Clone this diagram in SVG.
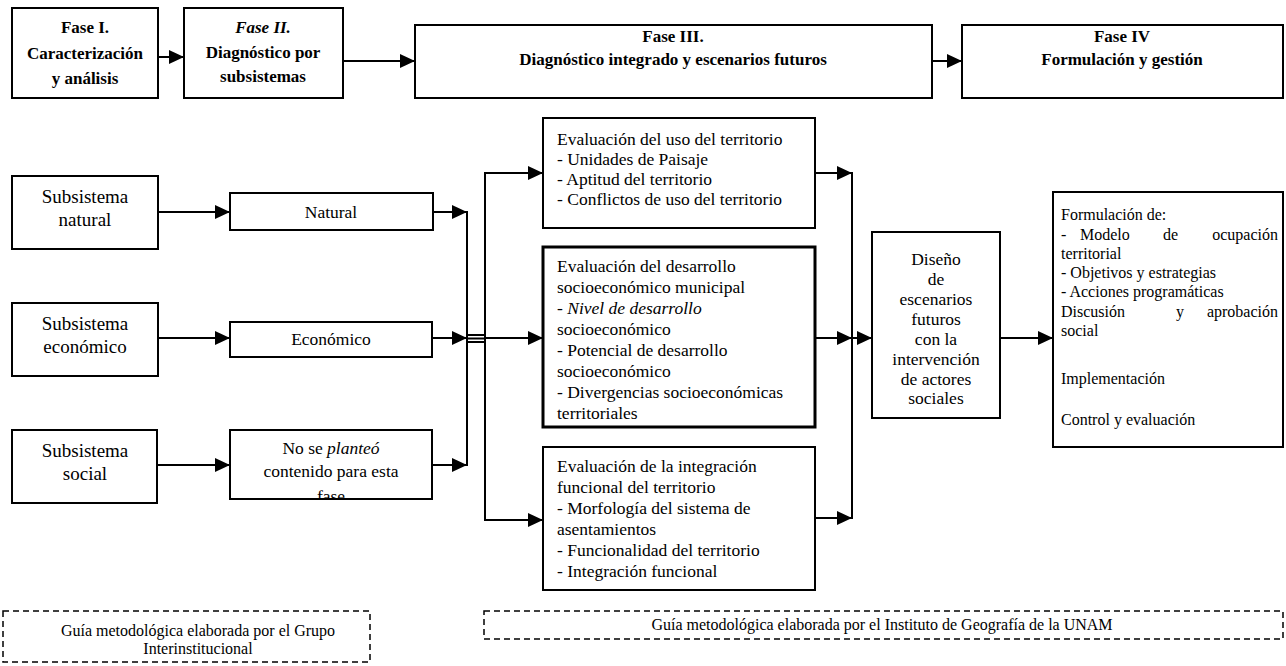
<svg xmlns="http://www.w3.org/2000/svg" width="1286" height="666" viewBox="0 0 1286 666">
<defs>
<marker id="ah" markerUnits="userSpaceOnUse" markerWidth="16" markerHeight="14" refX="15" refY="7" orient="auto">
<path d="M0,0 L15,7 L0,14 Z" fill="#000"/>
</marker>
<clipPath id="clipNo"><rect x="230" y="430" width="202" height="69"/></clipPath>
</defs>
<style>
.box{fill:#fff;stroke:#000;stroke-width:2}
.thick{fill:#fff;stroke:#000;stroke-width:3}
.dash{fill:none;stroke:#000;stroke-width:1.5;stroke-dasharray:6,4}
.t{font-family:"Liberation Serif","Times New Roman",serif;font-size:17.5px;fill:#000}
.l{font-family:"Liberation Serif","Times New Roman",serif;font-size:19px;fill:#000}
.s{font-family:"Liberation Serif","Times New Roman",serif;font-size:16px;fill:#000}
.b{font-family:"Liberation Serif","Times New Roman",serif;font-size:17px;font-weight:bold;fill:#000}
.m{text-anchor:middle}
.e{text-anchor:end}
.c{fill:none;stroke:#000;stroke-width:2}
.ca{fill:none;stroke:#000;stroke-width:2;marker-end:url(#ah)}
</style>
<rect width="1286" height="666" fill="#fff"/>

<g id="fase1">
<rect class="box" x="12" y="8" width="146" height="90"/>
<text class="b m" x="85" y="33">Fase I.</text>
<text class="b m" x="85" y="59">Caracterización</text>
<text class="b m" x="85" y="84">y análisis</text>
</g>
<g id="fase2">
<rect class="box" x="184" y="8" width="159" height="90"/>
<text class="b m" x="263" y="33" font-style="italic">Fase II.</text>
<text class="b m" x="263" y="58">Diagnóstico por</text>
<text class="b m" x="263" y="82">subsistemas</text>
</g>
<g id="fase3">
<rect class="box" x="415" y="25" width="517" height="73"/>
<text class="b m" x="673" y="42">Fase III.</text>
<text class="b m" x="673" y="65">Diagnóstico integrado y escenarios futuros</text>
</g>
<g id="fase4">
<rect class="box" x="962" y="25" width="321" height="73"/>
<text class="b m" x="1122" y="42">Fase IV</text>
<text class="b m" x="1122" y="65">Formulación y gestión</text>
</g>

<g id="sub-natural">
<rect class="box" x="12" y="176" width="146" height="73"/>
<text class="l m" x="85" y="203">Subsistema</text>
<text class="l m" x="85" y="226">natural</text>
</g>
<g id="natural">
<rect class="box" x="230" y="193" width="203" height="37"/>
<text class="t m" x="331" y="218">Natural</text>
</g>
<g id="sub-economico">
<rect class="box" x="12" y="303" width="146" height="73"/>
<text class="l m" x="85" y="330">Subsistema</text>
<text class="l m" x="85" y="353">económico</text>
</g>
<g id="economico">
<rect class="box" x="230" y="322" width="202" height="35"/>
<text class="t m" x="331" y="345">Económico</text>
</g>
<g id="sub-social">
<rect class="box" x="12" y="430" width="145" height="73"/>
<text class="l m" x="85" y="457">Subsistema</text>
<text class="l m" x="85" y="480">social</text>
</g>
<g id="no-planteo">
<rect class="box" x="230" y="430" width="202" height="69"/>
<g clip-path="url(#clipNo)">
<text class="t m" x="331" y="454">No se <tspan font-style="italic">planteó</tspan></text>
<text class="t m" x="331" y="477">contenido para esta</text>
<text class="t m" x="331" y="502">fase</text>
</g>
</g>

<g id="eval-uso">
<rect class="box" x="543" y="118" width="272" height="110"/>
<text class="t" x="557" y="145">Evaluación del uso del territorio</text>
<text class="t" x="557" y="165">- Unidades de Paisaje</text>
<text class="t" x="557" y="185">- Aptitud del territorio</text>
<text class="t" x="557" y="205">- Conflictos de uso del territorio</text>
</g>
<g id="eval-desarrollo">
<rect class="thick" x="543" y="247" width="272" height="180"/>
<text class="t" x="557" y="272">Evaluación del desarrollo</text>
<text class="t" x="557" y="293">socioeconómico municipal</text>
<text class="t" x="557" y="314">- <tspan font-style="italic">Nivel de desarrollo</tspan></text>
<text class="t" x="557" y="335">socioeconómico</text>
<text class="t" x="557" y="356">- Potencial de desarrollo</text>
<text class="t" x="557" y="377">socioeconómico</text>
<text class="t" x="557" y="398">- Divergencias socioeconómicas</text>
<text class="t" x="557" y="419">territoriales</text>
</g>
<g id="eval-integracion">
<rect class="box" x="543" y="447" width="272" height="143"/>
<text class="t" x="557" y="472">Evaluación de la integración</text>
<text class="t" x="557" y="493">funcional del territorio</text>
<text class="t" x="557" y="514">- Morfología del sistema de</text>
<text class="t" x="557" y="535">asentamientos</text>
<text class="t" x="557" y="556">- Funcionalidad del territorio</text>
<text class="t" x="557" y="577">- Integración funcional</text>
</g>

<g id="disenio">
<rect class="box" x="872" y="232" width="128" height="186"/>
<text class="t m" x="936" y="265">Diseño</text>
<text class="t m" x="936" y="285">de</text>
<text class="t m" x="936" y="305">escenarios</text>
<text class="t m" x="936" y="325">futuros</text>
<text class="t m" x="936" y="345">con la</text>
<text class="t m" x="936" y="365">intervención</text>
<text class="t m" x="936" y="385">de actores</text>
<text class="t m" x="936" y="404">sociales</text>
</g>

<g id="formulacion">
<rect class="box" x="1053" y="192" width="230" height="255"/>
<text class="s" x="1061" y="220">Formulación de:</text>
<text class="s" x="1061" y="240">-</text>
<text class="s" x="1080" y="240">Modelo</text>
<text class="s" x="1163" y="240">de</text>
<text class="s e" x="1278" y="240">ocupación</text>
<text class="s" x="1061" y="259">territorial</text>
<text class="s" x="1061" y="278">- Objetivos y estrategias</text>
<text class="s" x="1061" y="297">- Acciones programáticas</text>
<text class="s" x="1061" y="317">Discusión</text>
<text class="s" x="1176" y="317">y</text>
<text class="s e" x="1278" y="317">aprobación</text>
<text class="s" x="1061" y="336">social</text>
<text class="s" x="1061" y="384">Implementación</text>
<text class="s" x="1061" y="425">Control y evaluación</text>
</g>

<g id="guia-grupo">
<rect class="dash" x="3" y="611" width="367" height="51"/>
<text class="s m" x="198" y="636">Guía metodológica elaborada por el Grupo</text>
<text class="s m" x="198" y="654">Interinstitucional</text>
</g>
<g id="guia-unam">
<rect class="dash" x="484" y="611" width="799" height="28"/>
<text class="s m" x="882" y="630">Guía metodológica elaborada por el Instituto de Geografía de la UNAM</text>
</g>

<g id="connectors">
<line class="ca" x1="158" y1="57" x2="184" y2="57"/>
<line class="ca" x1="343" y1="61" x2="415" y2="61"/>
<line class="ca" x1="932" y1="61" x2="962" y2="61"/>

<line class="ca" x1="158" y1="212" x2="230" y2="212"/>
<line class="ca" x1="433" y1="212" x2="467" y2="212"/>
<line class="ca" x1="158" y1="338" x2="230" y2="338"/>
<line class="ca" x1="432" y1="338" x2="467" y2="338"/>
<line class="ca" x1="157" y1="465" x2="230" y2="465"/>
<line class="ca" x1="432" y1="465" x2="467" y2="465"/>
<line class="c" x1="467" y1="211" x2="467" y2="466"/>

<line class="c" x1="467" y1="335" x2="485" y2="335" stroke-width="1.5"/>
<line class="c" x1="467" y1="338.5" x2="485" y2="338.5" stroke-width="1.5"/>
<line class="c" x1="467" y1="342" x2="485" y2="342" stroke-width="1.5"/>

<line class="c" x1="485" y1="172" x2="485" y2="521"/>
<line class="ca" x1="484" y1="173" x2="543" y2="173"/>
<line class="ca" x1="485" y1="338" x2="543" y2="338"/>
<line class="ca" x1="484" y1="520" x2="543" y2="520"/>

<line class="ca" x1="815" y1="173" x2="852" y2="173"/>
<line class="ca" x1="815" y1="338" x2="852" y2="338"/>
<line class="ca" x1="815" y1="518" x2="852" y2="518"/>
<line class="c" x1="852" y1="172" x2="852" y2="519"/>
<line class="ca" x1="852" y1="338" x2="872" y2="338"/>

<line class="ca" x1="1000" y1="338" x2="1053" y2="338"/>
</g>
</svg>
